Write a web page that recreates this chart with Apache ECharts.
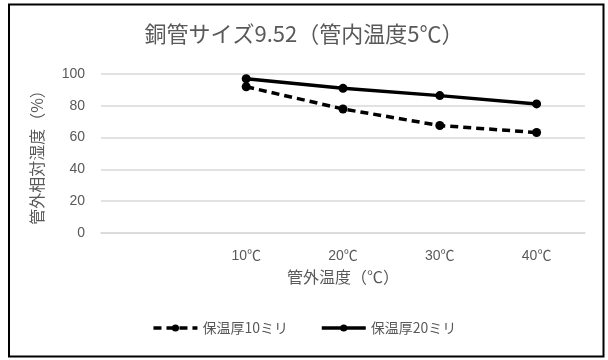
<!DOCTYPE html>
<html>
<head>
<meta charset="utf-8">
<script src="https://cdn.jsdelivr.net/npm/echarts@6/dist/echarts.min.js"></script>
<style>
  html, body { margin: 0; padding: 0; background: #fff; }
  #chart { width: 608px; height: 360px; }
</style>
</head>
<body>
<div id="chart"></div>
<script>
// Outside temperature categories (first slot is left blank)
const categories = ['', '10℃', '20℃', '30℃', '40℃'];
// Relative humidity (%) at which condensation appears, per insulation thickness
const insul10 = [null, 92, 78, 67.6, 63.2];
const insul20 = [null, 97, 91, 86.4, 81.2];
const yTicks = [0, 20, 40, 60, 80, 100];

const FONT = '"Liberation Sans", "Noto Sans CJK JP", sans-serif';
const JP = '"Noto Sans CJK JP", sans-serif';
const GREY = '#595959';

const chart = echarts.init(document.getElementById('chart'), null, { renderer: 'canvas' });

chart.setOption({
  animation: false,
  backgroundColor: '#fff',
  textStyle: { fontFamily: FONT },
  graphic: [{
    type: 'rect',
    shape: { x: 9, y: 4.5, width: 594.5, height: 352 },
    style: { fill: 'none', stroke: '#000', lineWidth: 2 },
    silent: true
  }],
  title: {
    text: '銅管サイズ9.52（管内温度5℃）',
    left: 'center',
    top: 18,
    textStyle: { fontFamily: JP, fontSize: 22, fontWeight: 'normal', color: GREY }
  },
  legend: {
    bottom: 20,
    left: 'center',
    itemWidth: 44,
    itemHeight: 9,
    itemGap: 32,
    textStyle: { fontFamily: JP, fontSize: 14, color: GREY },
    lineStyle: { width: 3.5 },
    data: ['保温厚10ミリ', '保温厚20ミリ']
  },
  grid: { left: 101, right: 23, top: 74, bottom: 127, containLabel: false },
  xAxis: {
    type: 'category',
    data: categories,
    boundaryGap: true,
    name: '管外温度（℃）',
    nameLocation: 'middle',
    nameGap: 36,
    nameTextStyle: { fontFamily: JP, fontSize: 16, color: GREY },
    axisLine: { show: true, lineStyle: { color: '#d9d9d9', width: 1.5 } },
    axisTick: { show: false },
    axisLabel: { color: GREY, fontSize: 14, margin: 16, fontFamily: FONT },
    splitLine: { show: false }
  },
  yAxis: {
    type: 'value',
    min: yTicks[0],
    max: yTicks[yTicks.length - 1],
    interval: 20,
    name: '管外相対湿度（%）',
    nameLocation: 'middle',
    nameGap: 56,
    nameRotate: 90,
    nameTextStyle: { fontFamily: JP, fontSize: 16, color: GREY },
    axisLine: { show: false },
    axisTick: { show: false },
    axisLabel: { color: GREY, fontSize: 14, margin: 16, fontFamily: FONT },
    splitLine: { lineStyle: { color: '#d9d9d9', width: 1.5 } }
  },
  series: [
    {
      name: '保温厚10ミリ',
      type: 'line',
      data: insul10,
      symbol: 'circle',
      symbolSize: 9,
      connectNulls: false,
      itemStyle: { color: '#000' },
      lineStyle: { color: '#000', width: 3.5, type: [8, 5] }
    },
    {
      name: '保温厚20ミリ',
      type: 'line',
      data: insul20,
      symbol: 'circle',
      symbolSize: 9,
      itemStyle: { color: '#000' },
      lineStyle: { color: '#000', width: 3.5 }
    }
  ]
});
</script>
</body>
</html>
